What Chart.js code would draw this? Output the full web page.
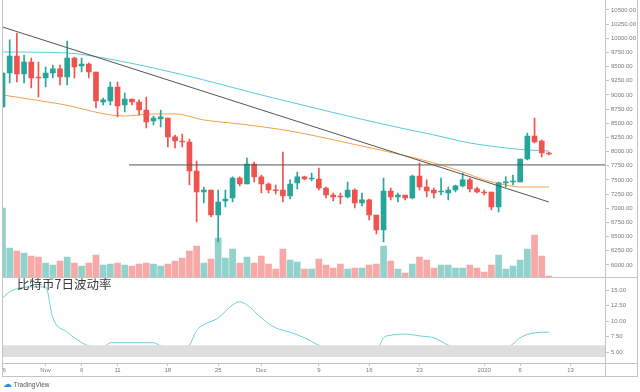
<!DOCTYPE html>
<html><head><meta charset="utf-8">
<script src="https://cdn.jsdelivr.net/npm/chart.js@4.4.0/dist/chart.umd.min.js"></script>
<style>
html,body{margin:0;padding:0;background:#fff;width:640px;height:392px;overflow:hidden;}
#wrap{position:relative;width:640px;height:392px;}
canvas{position:absolute;left:0;}
.ln{position:absolute;background:#c4c4c4;z-index:5;}
.wh{position:absolute;background:#fff;z-index:4;}
#title{position:absolute;left:17px;top:278px;font-size:12.5px;font-family:"Noto Sans CJK SC";color:#3a3a3a;line-height:1;z-index:6;}
#tv{position:absolute;left:3px;top:379px;font-size:6.5px;font-family:"Liberation Sans";color:#555;z-index:6;}
#tv span{color:#2a8ee8;font-size:9px;font-family:"DejaVu Sans";}
</style></head>
<body><div id="wrap">
<canvas id="main" width="640" height="277" style="top:0"></canvas>
<canvas id="low" width="640" height="99" style="top:277px"></canvas>
<div class="wh" style="left:0;top:364px;width:3px;height:12px"></div>
<div class="ln" style="left:2px;top:0;width:1px;height:377px"></div>
<div class="ln" style="left:637px;top:0;width:1px;height:377px"></div>
<div class="ln" style="left:605px;top:363px;width:1px;height:13px"></div>
<div class="ln" style="left:2px;top:277px;width:636px;height:1px"></div>
<div class="ln" style="left:2px;top:363px;width:636px;height:1px"></div>
<div class="ln" style="left:2px;top:376px;width:636px;height:1px"></div>
<div id="title">比特币7日波动率</div>
<div id="tv"><span>☁</span> TradingView</div>
</div>
<script>
// Daily candles, 2019-10-26 (index 0) .. 2020-01-10 (index 76)
const xTickIdx    = [0,6,11,16,23,30,36,44,51,58,67,72,79];
const xTickLabels = ['26','Nov','6','11','18','25','Dec','9','16','23','2020','6','13'];
const priceTicks  = [6000,6250,6500,6750,7000,7250,7500,7750,8000,8250,8500,8750,9000,9250,9500,9750,10000,10250,10500];
const volaTicks   = [5,7.5,10,12.5,15];

const open = [8788,9388,9688,9370,9582,9317,9300,9388,9459,9317,
  9653,9512,9547,9406,8876,8894,9141,8823,8929,8876,
  8735,8541,8576,8594,8259,8188,8170,7658,7288,7323,
  6882,7129,7182,7535,7429,7782,7553,7429,7323,7323,
  7217,7447,7553,7517,7517,7358,7235,7217,7199,7323,
  7094,7147,6882,6617,7305,7199,7235,7182,7570,7376,
  7323,7288,7270,7323,7394,7500,7341,7288,7288,7023,
  7447,7464,7464,7870,8276,8188,7976];
const close = [9388,9688,9370,9582,9300,9300,9388,9459,9317,9653,
  9494,9547,9406,8894,8912,9141,8806,8929,8876,8735,
  8523,8594,8612,8259,8188,8170,7658,7288,7323,6882,
  7111,7164,7535,7429,7782,7553,7429,7323,7310,7217,
  7429,7553,7517,7535,7358,7235,7199,7199,7323,7094,
  7147,6882,6617,7305,7199,7235,7182,7570,7376,7305,
  7270,7300,7323,7394,7500,7341,7288,7270,7023,7447,
  7464,7482,7870,8276,8170,7976,7958];
const high = [9406,9971,10094,9706,9653,9582,9494,9529,9529,9953,
  9670,9653,9565,9406,8947,9229,9229,9035,8929,8912,
  8964,8629,8735,8594,8294,8311,8223,7835,7376,7323,
  7323,7323,7553,7553,7888,7817,7588,7447,7411,7994,
  7500,7641,7570,7623,7711,7376,7270,7270,7464,7341,
  7270,7164,6882,7535,7358,7270,7235,7588,7800,7500,
  7358,7535,7376,7411,7623,7535,7376,7323,7288,7464,
  7553,7588,7870,8329,8594,8206,7994];
const low = [8770,9212,9229,9212,9123,8964,9141,9300,9176,9176,
  9300,9406,9300,8770,8823,8823,8612,8700,8823,8647,
  8417,8470,8435,8082,8065,8082,7411,6758,7094,6847,
  6405,7023,7111,7394,7429,7464,7270,7270,7252,7111,
  7164,7341,7500,7482,7323,7182,7129,7076,7182,7006,
  7041,6794,6547,6405,7147,7111,7147,7164,7323,7199,
  7182,7235,7147,7288,7376,7288,7270,7235,6970,6935,
  7376,7411,7464,7853,8153,7906,7940];
// volume (relative units)
const volume = [69,29,26,24,21,20,14,12,16,20,
  14,11,14,22,12,13,14,12,11,13,
  14,13,11,13,16,19,26,31,14,18,
  39,19,28,14,20,14,21,13,8,28,
  17,15,8,8,18,12,9,13,8,9,
  9,12,13,31,16,8,4,13,20,17,
  9,12,12,9,9,12,9,5,12,22,
  8,11,17,28,42,21,1];

// moving averages (read at sample candles)
const cyanIdx = [0,9,14,21,28,36,40,48,56,60,65,70,73,76];
const cyanVal = [9759,9741,9653,9476,9265,9000,8876,8629,8400,8294,8153,8065,8029,8011];
const orangeIdx = [0,8,17,21,24,28,33,40,48,55,60,64,67,70,72,76];
const orangeVal = [9000,8841,8629,8665,8665,8559,8488,8364,8153,7958,7800,7641,7500,7411,7376,7376];
// drawn lines
const trendIdx = [0,76];
const trendVal = [10200,7111];
const levelIdx = [17.6,83.8];
const levelVal = [7765,7765];

// 7-day volatility
const volaIdx = [0,1,2,4,6,7,9,10,12,14,15,21,22,25,26,27,28,30,32,33,34,36,38,40,42,44,46,48,50,52,53,54,56,58,60,62,64,66,67,68,70,71,72,74,76];
const volaVal = [13.7,14.7,15.2,15.5,15.5,10.5,8.2,7.3,6.0,5.8,6.5,6.5,6.0,5.6,6.1,8.5,9.4,10.5,12.6,13.1,12.6,10.5,8.9,8.2,7.3,6.1,5.5,5.2,5.3,5.3,7.3,7.7,7.9,7.6,7.3,6.1,5.3,4.7,4.7,5.2,5.6,6.3,7.3,8.1,8.2];
const bandRange = [4.2,6.1];

const X_MIN = 0, X_MAX = 83.8;
const UP = '#26a69a', DN = '#ef5350';
const UPV = 'rgba(38,166,154,0.5)', DNV = 'rgba(239,83,80,0.5)';
const AXC = '#c4c4c4', TXC = '#7a7a7a';
const idx = open.map((_, i) => i);
const isUp = idx.map(i => close[i] >= open[i]);
const pts = (xs, ys) => xs.map((x, i) => ({x: x, y: ys[i]}));

function yAxis(min, max, ticks) {
  return {
    position: 'right', min: min, max: max,
    afterFit: s => { s.width = 35; s.paddingTop = 0; s.paddingBottom = 0; },
    afterBuildTicks: s => { s.ticks = ticks.map(v => ({value: v})); },
    ticks: {font: {size: 6, family: 'Liberation Sans'}, color: TXC, padding: 2,
            callback: v => Number(v).toFixed(2)},
    grid: {drawOnChartArea: false, tickLength: 4, color: AXC},
    border: {display: true, color: AXC}
  };
}

new Chart(document.getElementById('main'), {
  type: 'bar',
  data: {
    datasets: [
      {type: 'bar', yAxisID: 'yv', order: 10, grouped: false, barThickness: 6,
       data: idx.map(i => ({x: i, y: volume[i]})),
       backgroundColor: idx.map(i => isUp[i] ? UPV : DNV)},
      {type: 'line', order: 8, data: pts(cyanIdx, cyanVal), borderColor: '#5cc9d9', borderWidth: 1,
       pointRadius: 0, cubicInterpolationMode: 'monotone'},
      {type: 'line', order: 7, data: pts(orangeIdx, orangeVal), borderColor: '#f5a04e', borderWidth: 1,
       pointRadius: 0, cubicInterpolationMode: 'monotone'},
      {type: 'bar', order: 3, grouped: false, barThickness: 1,
       data: idx.map(i => ({x: i, y: [low[i], high[i]]})),
       backgroundColor: idx.map(i => isUp[i] ? UP : DN)},
      {type: 'bar', order: 2, grouped: false, barThickness: 5, minBarLength: 1,
       data: idx.map(i => ({x: i, y: [open[i], close[i]]})),
       backgroundColor: idx.map(i => isUp[i] ? UP : DN)},
      {type: 'line', order: 1, data: pts(trendIdx, trendVal), borderColor: '#555', borderWidth: 1, pointRadius: 0},
      {type: 'line', order: 1, data: pts(levelIdx, levelVal), borderColor: '#555', borderWidth: 1, pointRadius: 0}
    ]
  },
  options: {
    responsive: false, animation: false,
    layout: {padding: {left: 2.5, right: 0, top: 0, bottom: 0}},
    plugins: {legend: {display: false}, tooltip: {enabled: false}},
    scales: {
      x: {type: 'linear', min: X_MIN, max: X_MAX, offset: false, display: false},
      y: yAxis(5787, 10676, priceTicks),
      yv: {display: false, min: 0, max: 277}
    }
  }
});

new Chart(document.getElementById('low'), {
  type: 'line',
  data: {
    datasets: [
      {data: pts([X_MIN, X_MAX], [bandRange[1], bandRange[1]]), borderWidth: 0, pointRadius: 0, fill: false},
      {data: pts([X_MIN, X_MAX], [bandRange[0], bandRange[0]]), borderWidth: 0, pointRadius: 0,
       fill: '-1', backgroundColor: '#dedede'},
      {data: pts(volaIdx, volaVal), borderColor: '#6ccfe0', borderWidth: 1, pointRadius: 0,
       cubicInterpolationMode: 'monotone', fill: false}
    ]
  },
  options: {
    responsive: false, animation: false,
    layout: {padding: {left: 2.5, right: 0, top: 1, bottom: 0}},
    plugins: {legend: {display: false}, tooltip: {enabled: false}},
    scales: {
      x: {type: 'linear', min: X_MIN, max: X_MAX, offset: false,
          afterFit: s => { s.height = 13; s.paddingLeft = 0; s.paddingRight = 0; },
          afterBuildTicks: s => { s.ticks = xTickIdx.map(v => ({value: v})); },
          ticks: {autoSkip: false, maxRotation: 0, font: {size: 6, family: 'Liberation Sans'}, color: TXC, padding: 1,
                  callback: (v, i) => xTickLabels[i]},
          grid: {drawOnChartArea: false, tickLength: 3, color: AXC},
          border: {display: true, color: AXC}},
      y: yAxis(3.23, 16.94, volaTicks)
    }
  }
});
</script>
</body></html>
